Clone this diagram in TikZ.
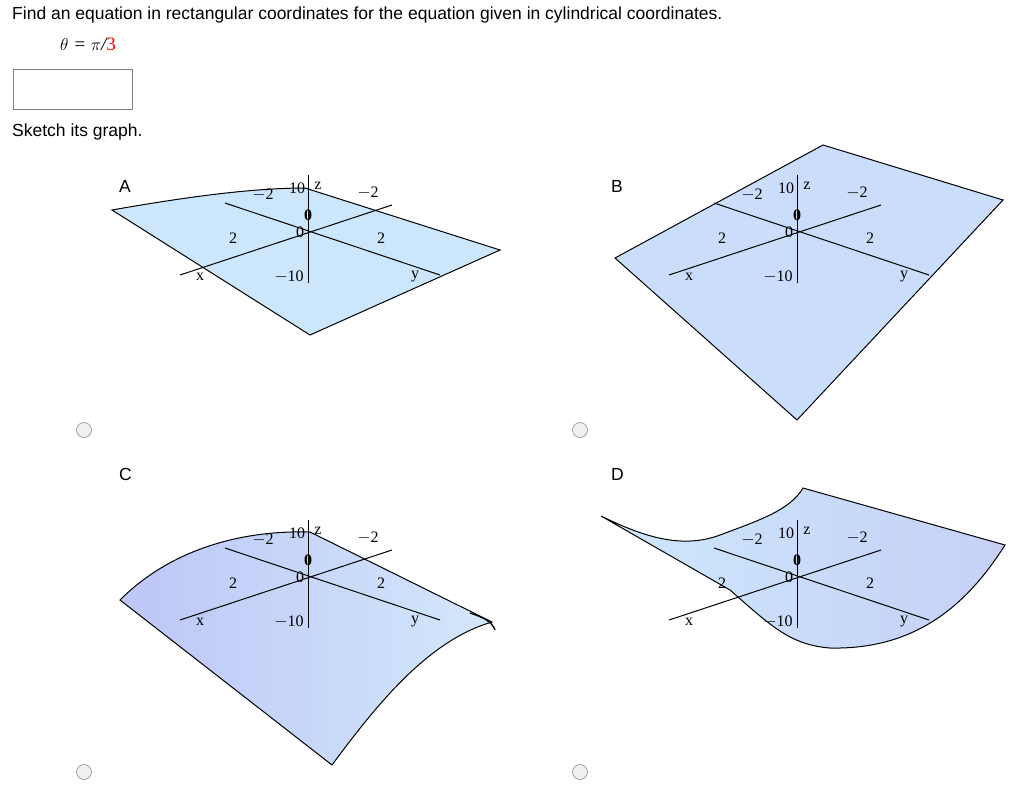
\documentclass[tikz,border=0pt]{standalone}
\usepackage{fontspec}
\setmainfont{Liberation Sans}
\newfontfamily\serf{Liberation Serif}
\begin{document}
\begin{tikzpicture}[x=1pt,y=-1pt,
  q/.style={font=\fontsize{17.5}{20}\selectfont,anchor=west,inner sep=0},
  al/.style={font=\serf\fontsize{16}{18}\selectfont,inner sep=0},
  ax/.style={line width=1pt,black},
  surf/.style={draw=black,line width=1pt},
  radio/.style={circle,draw=gray!75,fill=gray!12,line width=0.8pt,minimum size=15pt,inner sep=0}]
\useasboundingbox (0,0) rectangle (1024,798);
\node[q] (t1) at (12,15) {Find an equation in rectangular coordinates for the equation given in cylindrical coordinates.};
\node[q,font=\serf\itshape\fontsize{19}{21}\selectfont] (t2) at (60,44) {$\theta$ = $\pi$/\textcolor{red}{\upshape 3}};
\draw[gray,line width=0.8pt] (13,69) rectangle (132,109);
\node[q] (t3) at (12,132) {Sketch its graph.};
\node[q] (la) at (119,186) {A};
\node[q] (lb) at (611,186) {B};
\node[q] (lc) at (119,474) {C};
\node[q] (ld) at (611,474) {D};
% surfaces
\fill[surf,fill={rgb,255:red,204;green,230;blue,251}] (112,210) .. controls (180,198) and (250,188) .. (305,188) -- (500,250) -- (310,335) -- cycle;
\fill[surf,fill={rgb,255:red,202;green,221;blue,251}] (615,258) -- (823,145) -- (1003,200) -- (797,420) -- cycle;
\shade[surf,left color={rgb,255:red,190;green,198;blue,246},right color={rgb,255:red,210;green,232;blue,251}] (120,600) .. controls (170,550) and (240,530) .. (310,532) -- (492,622) .. controls (430,640) and (380,700) .. (332,765) -- cycle;
\draw[line width=1.3pt] (470,613) .. controls (485,618) and (492,622) .. (495,630);
\shade[surf,left color={rgb,255:red,205;green,232;blue,252},right color={rgb,255:red,198;green,208;blue,247}] (601,516) .. controls (640,535) and (680,550) .. (720,535) .. controls (760,520) and (790,510) .. (803,488) -- (1005,545) .. controls (970,600) and (920,650) .. (830,648) .. controls (790,645) and (770,625) .. (730,590) -- cycle;
\foreach \ox/\oy in {308/230, 797/230, 308/575, 797/575}{
 \begin{scope}[shift={(\ox,\oy)}]
  \draw[ax] (0,-55) -- (0,53);
  \draw[ax] (-128,45) -- (84,-25);
  \draw[ax] (-83,-27) -- (132,45);
  \node[al] at (-75,8) {2};
  \node[al] at (73,8) {2};
  \node[al] at (-45,-35) {$-$2};
  \node[al] at (60,-37) {$-$2};
  \node[al] at (-11,-42) {10};
  \node[al] at (10,-44) {z};
  \node[al,font=\serf\bfseries\fontsize{16}{18}\selectfont] at (0,-15) {0};
  \node[al] at (-8,2) {0};
  \node[al] at (-19,47) {$-$10};
  \node[al] at (-108,47) {x};
  \node[al] at (107,47) {y};
 \end{scope}}
\node[radio] (r1) at (84,430) {};
\node[radio] (r2) at (580,430) {};
\node[radio] (r3) at (84,772) {};
\node[radio] (r4) at (580,772) {};
\end{tikzpicture}
\end{document}
